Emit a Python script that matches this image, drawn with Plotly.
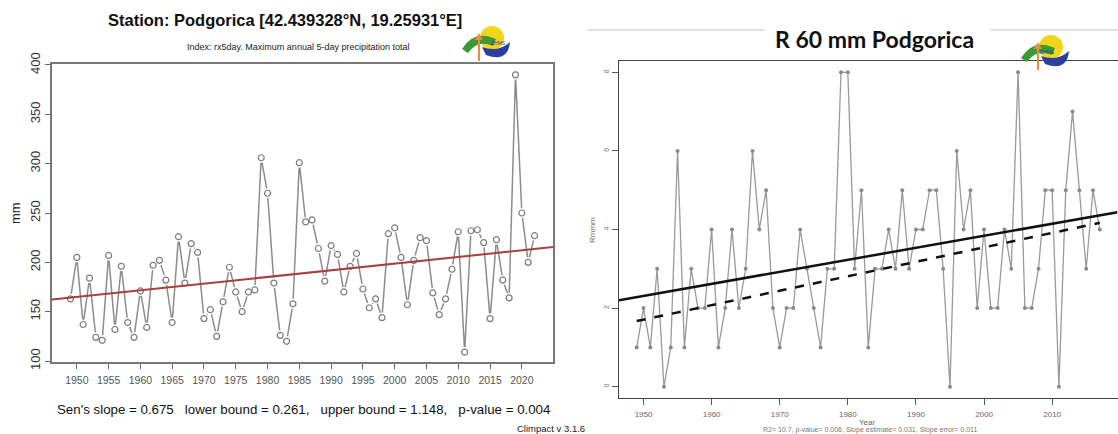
import plotly.graph_objects as go

W, H = 1118, 434

# left panel: rx5day, Podgorica (Climpact)
rx_years = list(range(1949, 2023))
rx5day = [163, 205, 137, 184, 124, 121, 207, 132, 196, 139,
          124, 171, 134, 197, 202, 182, 139, 226, 179, 219,
          210, 143, 152, 125, 160, 195, 170, 150, 170, 172,
          306, 270, 179, 126, 120, 158, 301, 241, 243, 214,
          181, 217, 208, 170, 196, 209, 173, 154, 163, 144,
          229, 235, 205, 157, 202, 225, 222, 169, 147, 163,
          193, 231, 109, 232, 233, 220, 143, 223, 182, 164,
          390, 250, 200, 227]
sen_x = [1946.1, 2024.9]
sen_y = [162.3, 215.5]

# right panel: R60mm days, Podgorica
r60_years = list(range(1949, 2018))
r60 = [1, 2, 1, 3, 0, 1, 6, 1, 3, 2,
       2, 4, 1, 2, 4, 2, 3, 6, 4, 5,
       2, 1, 2, 2, 4, 3, 2, 1, 3, 3,
       8, 8, 3, 5, 1, 3, 3, 4, 3, 5,
       3, 4, 4, 5, 5, 3, 0, 6, 4, 5,
       2, 4, 2, 2, 4, 3, 8, 2, 2, 3,
       5, 5, 0, 5, 7, 5, 3, 5, 4]
lin_x = [1946.4, 2019.6]
lin_y = [2.2, 4.44]
loess_x = [1949, 2017]
loess_y = [1.67, 4.17]

LEFT_FONT = "Liberation Sans, Arial"


def px(x):
    return x / W


def py(y):
    return 1 - y / H


def add_logo(fig, x0, y0):
    """ rough sketch of the ZHMS logo, drawn with shapes """
    X = lambda v: px(x0 + v)
    Y = lambda v: py(y0 + v)
    fig.add_shape(type="circle", xref="paper", yref="paper",
                  x0=X(18), x1=X(42), y0=Y(25), y1=Y(1),
                  fillcolor="#f2d41a", line_width=0)
    fig.add_shape(type="path", xref="paper", yref="paper",
                  path=f"M {X(0)},{Y(24)} Q {X(12)},{Y(4)} {X(34)},{Y(14)} "
                       f"L {X(31)},{Y(21)} Q {X(16)},{Y(14)} {X(6)},{Y(28)} Z",
                  fillcolor="#3c9a35", line_width=0)
    fig.add_shape(type="path", xref="paper", yref="paper",
                  path=f"M {X(20)},{Y(22)} Q {X(36)},{Y(28)} {X(48)},{Y(17)} "
                       f"Q {X(46)},{Y(38)} {X(24)},{Y(30)} Z",
                  fillcolor="#2a3f9e", line_width=0)
    fig.add_shape(type="line", xref="paper", yref="paper",
                  x0=X(17), x1=X(17), y0=Y(36), y1=Y(10),
                  line=dict(color="#f08a3a", width=2))
    fig.add_shape(type="path", xref="paper", yref="paper",
                  path=f"M {X(13)},{Y(15)} L {X(17)},{Y(8)} L {X(21)},{Y(15)} Z",
                  fillcolor="#f08a3a", line_width=0)
    fig.add_annotation(x=X(36), y=Y(13), xref="paper", yref="paper", text="ZHMS",
                       showarrow=False, font=dict(size=5, color="#2a3f9e", family=LEFT_FONT))


fig = go.Figure()

# ---- left chart
fig.add_trace(go.Scatter(x=rx_years, y=rx5day, mode="lines", line=dict(color="#8c8c8c", width=1.5),
                         xaxis="x", yaxis="y", showlegend=False))
fig.add_trace(go.Scatter(x=rx_years, y=rx5day, mode="markers",
                         marker=dict(symbol="circle", size=10, color="white", line_width=0),
                         xaxis="x", yaxis="y", showlegend=False))
fig.add_trace(go.Scatter(x=rx_years, y=rx5day, mode="markers",
                         marker=dict(symbol="circle-open", size=6, color="#7a7a7a", line_width=1.2),
                         xaxis="x", yaxis="y", showlegend=False))
fig.add_trace(go.Scatter(x=sen_x, y=sen_y, mode="lines", line=dict(color="#a8403f", width=2),
                         xaxis="x", yaxis="y", showlegend=False))

# ---- right chart
fig.add_trace(go.Scatter(x=r60_years, y=r60, mode="lines+markers", line=dict(color="#9a9a9a", width=1.3),
                         marker=dict(size=4, color="#8a8a8a"),
                         xaxis="x2", yaxis="y2", showlegend=False))
fig.add_trace(go.Scatter(x=lin_x, y=lin_y, mode="lines", line=dict(color="#111111", width=2.5),
                         xaxis="x2", yaxis="y2", showlegend=False))
fig.add_trace(go.Scatter(x=loess_x, y=loess_y, mode="lines", line=dict(color="#111111", width=2.5, dash="dash"),
                         xaxis="x2", yaxis="y2", showlegend=False))

fig.update_layout(
    width=W, height=H, margin=dict(l=0, r=0, t=0, b=0),
    paper_bgcolor="white", plot_bgcolor="white",
    xaxis=dict(domain=[px(52), px(553)], range=[1946.1, 2024.9], tickmode="array", automargin=False,
               tickvals=list(range(1950, 2021, 5)), ticks="outside", ticklen=5, tickcolor="#666",
               showline=True, mirror=True, linecolor="#777", linewidth=1.5, showgrid=False,
               zeroline=False, ticklabelstandoff=3,
               tickfont=dict(family=LEFT_FONT, size=10.5, color="#555")),
    yaxis=dict(domain=[py(362), py(64)], range=[99, 401], tickvals=[100, 150, 200, 250, 300, 350, 400],
               ticks="outside", ticklen=5, tickcolor="#666", tickangle=-90, automargin=False,
               showline=True, mirror=True, linecolor="#777", linewidth=1.5, showgrid=False,
               zeroline=False, tickfont=dict(family=LEFT_FONT, size=13, color="#333")),
    xaxis2=dict(domain=[px(619), px(1117.5)], range=[1946.4, 2019.6], anchor="y2", automargin=False,
                tickvals=[1950, 1960, 1970, 1980, 1990, 2000, 2010], ticks="outside", ticklen=6,
                tickcolor="#555", showline=True, mirror=True, linecolor="#444", linewidth=1,
                showgrid=False, zeroline=False, ticklabelstandoff=3,
                tickfont=dict(family=LEFT_FONT, size=8, color="#666")),
    yaxis2=dict(domain=[py(397.5), py(61)], range=[-0.275, 8.288], anchor="x2", automargin=False,
                tickvals=[0, 2, 4, 6, 8], ticks="outside", ticklen=6, tickcolor="#555", tickangle=-90,
                showline=True, mirror=True, linecolor="#444", linewidth=1, showgrid=False,
                zeroline=False, tickfont=dict(family=LEFT_FONT, size=7, color="#777")),
)

notes = [
    (285, 20, "<b>Station: Podgorica [42.439328°N, 19.25931°E]</b>", 16.5, "#111", 0, LEFT_FONT),
    (298, 47, "Index: rx5day. Maximum annual 5-day precipitation total", 9, "#222", 0, LEFT_FONT),
    (15, 213, "mm", 13, "#222", -90, LEFT_FONT),
    (303, 409, "Sen's slope = 0.675\u00a0\u00a0\u00a0lower bound = 0.261,\u00a0\u00a0\u00a0upper bound = 1.148,"
               "\u00a0\u00a0\u00a0p-value = 0.004", 13.3, "#111", 0, LEFT_FONT),
    (551, 428, "Climpact v 3.1.6", 9.5, "#222", 0, LEFT_FONT),
    (874, 39, "<b>R 60 mm Podgorica</b>", 23, "#111", 0, "Lato, Open Sans"),
    (592, 230, "Rmmm", 8, "#777", -90, LEFT_FONT),
    (867, 422, "Year", 8, "#666", 0, LEFT_FONT),
    (870, 429.5, "R2= 10.7, p-value= 0.006, Slope estimate= 0.031, Slope error= 0.011", 7, "#777", 0, LEFT_FONT),
]
for x, y, t, s, c, a, f in notes:
    fig.add_annotation(x=px(x), y=py(y), xref="paper", yref="paper", text=t, showarrow=False,
                       textangle=a, font=dict(size=s, color=c, family=f), xanchor="center", yanchor="middle")

# header rule of the right slide, broken by the title
fig.add_shape(type="line", xref="paper", yref="paper", x0=px(587), x1=px(765), y0=py(30), y1=py(30),
              line=dict(color="#c8c8c8", width=1))
fig.add_shape(type="line", xref="paper", yref="paper", x0=px(990), x1=px(1118), y0=py(30), y1=py(30),
              line=dict(color="#c8c8c8", width=1))

add_logo(fig, 462, 25)
add_logo(fig, 1021, 34)

# browser default body margin would push the figure 8px in
fig.write_html("out.html", config={"displayModeBar": False},
               post_script="document.body.style.margin='0';")
